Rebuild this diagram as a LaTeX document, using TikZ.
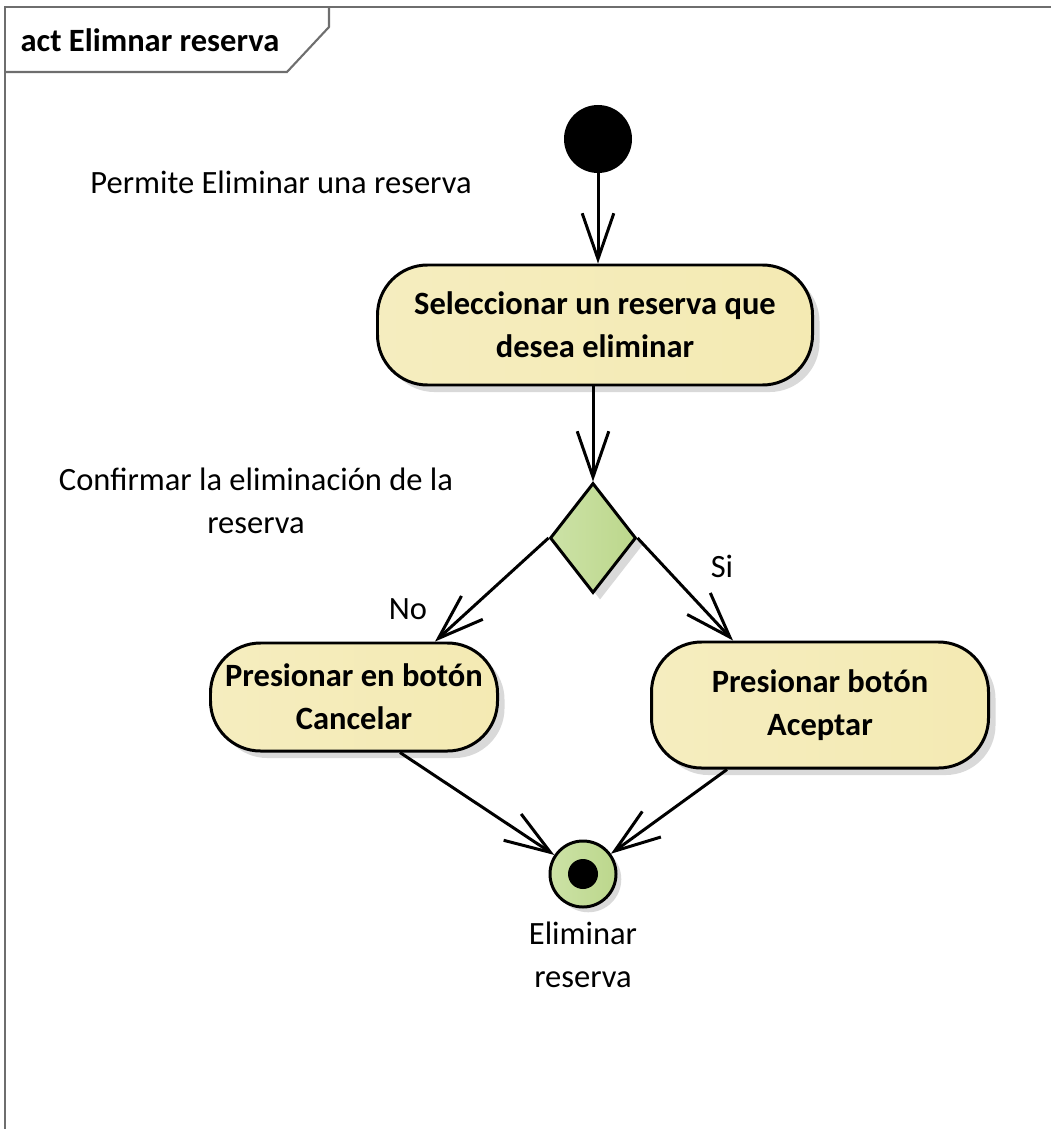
\documentclass[tikz,border=0pt]{standalone}
\usepackage{fontspec}
\setmainfont{Carlito}
\definecolor{actleft}{HTML}{F5EDBF}
\definecolor{actmid}{HTML}{FBF7DE}
\definecolor{actright}{HTML}{F4EAB3}
\definecolor{decleft}{HTML}{CCE2A6}
\definecolor{decright}{HTML}{BCD78C}
\definecolor{framegray}{HTML}{6E6E6E}
\usetikzlibrary{
    arrows.meta,
    shapes.geometric,
    shadows
}
\tikzstyle{action} = [
    rectangle,
    draw=black,
    line width=1.7pt,
    left color=actleft,
    middle color=actmid,
    right color=actright,
    rounded corners=1cm,
    align=center,
    font=\fontsize{18.5}{24.5}\selectfont\bfseries,
    drop shadow={shadow xshift=4pt, shadow yshift=-4pt, fill=black!15, opacity=1}
]
\tikzstyle{decision} = [
    diamond,
    draw=black,
    line width=1.7pt,
    left color=decleft,
    right color=decright,
    minimum width=1.72cm,
    minimum height=2.2cm,
    inner sep=0pt,
    drop shadow={shadow xshift=4pt, shadow yshift=-4pt, fill=black!15, opacity=1}
]
\tikzstyle{startnode} = [
    circle,
    fill=black,
    minimum size=1.36cm,
    inner sep=0pt
]
\tikzstyle{endnode} = [
    circle,
    draw=black,
    line width=1.7pt,
    left color=decleft,
    right color=decright,
    minimum size=1.32cm,
    inner sep=0pt,
    drop shadow={shadow xshift=3pt, shadow yshift=-3pt, fill=black!15, opacity=1},
    path picture={\fill[black] (path picture bounding box.center) circle (0.3cm);}
]
\tikzstyle{note} = [
    align=center,
    font=\fontsize{18.5}{24.5}\selectfont
]
\tikzstyle{flow} = [
    -{Straight Barb[length=26pt, width=18pt]},
    line width=1.7pt,
    draw=black
]

\begin{document}
\begin{tikzpicture}
    \useasboundingbox (0,0) rectangle (21,-22.58);
    % Frame
    \draw[framegray, line width=1.2pt] (0.1,-23) -- (0.1,-0.14) -- (21.2,-0.14);
    \draw[framegray, line width=1.2pt] (0.1,-1.44) -- (5.74,-1.44) -- (6.58,-0.54) -- (6.58,-0.14);
    \node[font=\fontsize{18.5}{22}\selectfont\bfseries] (title) at (3.0,-0.8) {act Elimnar reserva};

    % Start
    \node[startnode] (init) at (11.96,-2.78) {};
    \node[note] (note1) at (5.62,-3.64) {Permite Eliminar una reserva};

    % Select
    \node[action, minimum width=8.7cm, minimum height=2.4cm] (select) at (11.9,-6.5)
        {Seleccionar un reserva que\\desea eliminar};

    % Decision
    \node[decision] (confirm) at (11.86,-10.76) {};
    \node[note] (note2) at (5.12,-10.02) {Confirmar la eliminación de la\\reserva};
    \node[note] (nolbl) at (8.16,-12.18) {No};
    \node[note] (silbl) at (14.44,-11.32) {Si};

    % Branches
    \node[action, minimum width=5.74cm, minimum height=2.16cm] (cancel) at (7.08,-13.94)
        {Presionar en botón\\Cancelar};
    \node[action, minimum width=6.74cm, minimum height=2.52cm] (accept) at (16.4,-14.1)
        {Presionar botón\\Aceptar};

    % End
    \node[endnode] (final) at (11.66,-17.48) {};
    \node[note] (finallbl) at (11.66,-19.1) {Eliminar\\reserva};

    % Arrows
    \draw[flow] (init) -- (init |- select.north);
    \draw[flow] (select.south -| confirm.north) -- (confirm.north);
    \draw[flow] (confirm.west) -- ([xshift=1.62cm]cancel.north);
    \draw[flow] (confirm.east) -- ([xshift=-1.74cm]accept.north);
    \draw[flow] ([xshift=0.92cm]cancel.south) -- (final);
    \draw[flow] ([xshift=-1.86cm]accept.south) -- (final);
\end{tikzpicture}
\end{document}
